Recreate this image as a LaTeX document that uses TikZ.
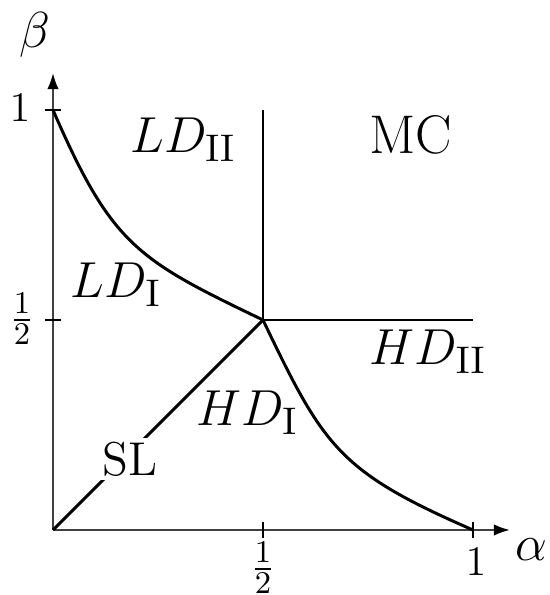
\documentclass[tikz,border=0pt]{standalone}
\usetikzlibrary{arrows.meta}
\begin{document}
\begin{tikzpicture}[x=4.2cm,y=4.2cm,
  axis/.style={draw=black!75,line width=0.6pt},
  tip/.style={-{Latex[length=4.6pt,width=3.3pt,fill=black,color=black]}},
  phase/.style={draw=black,line width=0.85pt},
  tick/.style={draw=black,line width=0.6pt},
  ticklbl/.style={inner sep=0pt,font=\fontsize{12.6}{15}\selectfont},
  axlbl/.style={inner sep=0pt,font=\fontsize{14.5}{17}\selectfont},
  region/.style={inner sep=0pt,font=\fontsize{15.5}{18}\selectfont}]
\useasboundingbox (-0.1262,-0.1548) rectangle (1.181,1.2619);
\coordinate (O) at (0,0);
\coordinate (xend) at (1.088,0);
\coordinate (yend) at (0,1.088);
\coordinate (C) at (0.5,0.5);
\coordinate (Ctop) at (0.5,1);
\coordinate (Cright) at (1,0.5);
\coordinate (Y1) at (0,1);
\coordinate (X1) at (1,0);
\draw[axis,tip] (O) -- (xend);
\draw[axis,tip] (O) -- (yend);
\foreach \t in {0.5,1}{
  \draw[tick] (\t,-0.018) -- (\t,0.018);
  \draw[tick] (-0.018,\t) -- (0.018,\t);
}
\draw[phase] (C) -- (Ctop);
\draw[phase] (C) -- (Cright);
\draw[phase] (O) -- (C);
\draw[phase] (Y1) .. controls (0.14,0.678) and (0.2,0.644) .. (C);
\draw[phase] (C) .. controls (0.644,0.2) and (0.678,0.14) .. (X1);
\node[axlbl] (beta) at (-0.043,1.179) {$\beta$};
\node[axlbl] (alpha) at (1.14,-0.046) {$\alpha$};
\node[ticklbl] (y1) at (-0.079,1.005) {$1$};
\node[ticklbl] (yh) at (-0.074,0.502) {$\frac{1}{2}$};
\node[ticklbl] (x1) at (1.007,-0.077) {$1$};
\node[ticklbl] (xh) at (0.5,-0.091) {$\frac{1}{2}$};
\node[region] (ld2) at (0.31,0.929) {$LD_{\mathrm{II}}$};
\node[region] (mc) at (0.852,0.94) {MC};
\node[region] (hd2) at (0.893,0.424) {$HD_{\mathrm{II}}$};
\node[region] (ld1) at (0.15,0.583) {$LD_{\mathrm{I}}$};
\node[region] (hd1) at (0.462,0.279) {$HD_{\mathrm{I}}$};
\node[ticklbl,font=\fontsize{13.5}{16}\selectfont,fill=white,inner sep=1pt] (sl) at (0.183,0.169) {SL};
\end{tikzpicture}
\end{document}
